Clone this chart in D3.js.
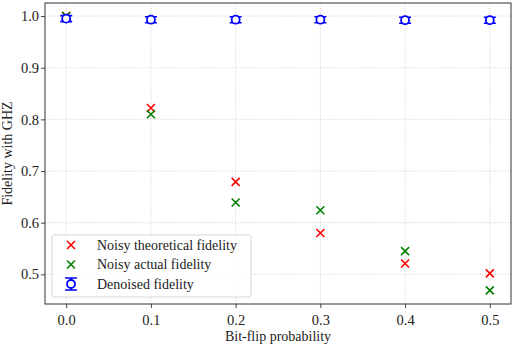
<!DOCTYPE html>
<html>
<head>
<meta charset="utf-8">
<script src="https://cdn.jsdelivr.net/npm/d3@7"></script>
<style>
  body { margin: 0; background: #fff; }
  svg text { font-family: "Liberation Serif", "DejaVu Serif", serif; fill: #222; }
</style>
</head>
<body>
<div id="chart"></div>
<script>
const probs = [0.0, 0.1, 0.2, 0.3, 0.4, 0.5]
const theoretical = [1.0, 0.822, 0.679, 0.580, 0.521, 0.502]
const actual = [1.0, 0.810, 0.639, 0.624, 0.545, 0.469]
const denoised = [0.995, 0.993, 0.993, 0.993, 0.992, 0.992]
const denoisedErr = [0.005, 0.004, 0.004, 0.004, 0.004, 0.004]
const xTicks = [0.0, 0.1, 0.2, 0.3, 0.4, 0.5]
const yTicks = [0.5, 0.6, 0.7, 0.8, 0.9, 1.0]
const legendLabels = ["Noisy theoretical fidelity", "Noisy actual fidelity", "Denoised fidelity"]

const width = 512, height = 344
const margin = { top: 3, right: 1, bottom: 40, left: 45 }
const fontSize = 14

const svg = d3.select("#chart").append("svg")
    .attr("width", width)
    .attr("height", height)

const x = d3.scaleLinear().domain([-0.025, 0.525]).range([margin.left, width - margin.right])
const y = d3.scaleLinear().domain([0.4426, 1.0253]).range([height - margin.bottom, margin.top])

// grid
const grid = svg.append("g")
    .attr("stroke", "#c8c8c8")
    .attr("stroke-width", 0.8)
    .attr("stroke-dasharray", "1,1.5")
grid.selectAll("line.gx").data(xTicks).join("line")
    .attr("x1", d => x(d)).attr("x2", d => x(d))
    .attr("y1", y.range()[0]).attr("y2", y.range()[1])
grid.selectAll("line.gy").data(yTicks).join("line")
    .attr("class", "gy")
    .attr("y1", d => y(d)).attr("y2", d => y(d))
    .attr("x1", x.range()[0]).attr("x2", x.range()[1])

// axes
const xAxis = svg.append("g")
    .attr("transform", `translate(0,${height - margin.bottom})`)
    .call(d3.axisBottom(x).tickValues(xTicks).tickFormat(d3.format(".1f")).tickSize(4).tickSizeOuter(0))
const yAxis = svg.append("g")
    .attr("transform", `translate(${margin.left},0)`)
    .call(d3.axisLeft(y).tickValues(yTicks).tickFormat(d3.format(".1f")).tickSize(4).tickSizeOuter(0))
for (const ax of [xAxis, yAxis]) {
    ax.attr("font-family", null)
    ax.select(".domain").remove()
    ax.selectAll(".tick line").attr("stroke", "#333").attr("stroke-width", 0.9)
    ax.selectAll(".tick text").attr("font-size", fontSize + 0.5).attr("fill", "#222")
}
xAxis.selectAll(".tick text").attr("dy", "0.95em")
yAxis.selectAll(".tick text").attr("x", -6)

// frame
svg.append("rect")
    .attr("x", x.range()[0]).attr("y", y.range()[1])
    .attr("width", x.range()[1] - x.range()[0])
    .attr("height", y.range()[0] - y.range()[1])
    .attr("fill", "none").attr("stroke", "#333").attr("stroke-width", 1)

svg.append("text")
    .attr("x", (x.range()[0] + x.range()[1]) / 2)
    .attr("y", height - 3)
    .attr("text-anchor", "middle")
    .attr("font-size", fontSize)
    .text("Bit-flip probability")
svg.append("text")
    .attr("transform", `translate(12,${(y.range()[0] + y.range()[1]) / 2}) rotate(-90)`)
    .attr("text-anchor", "middle")
    .attr("font-size", fontSize)
    .text("Fidelity with GHZ")

const cross = (g, cx, cy, color) => {
    const s = 4
    g.append("path")
        .attr("d", `M${cx - s},${cy - s}L${cx + s},${cy + s}M${cx - s},${cy + s}L${cx + s},${cy - s}`)
        .attr("stroke", color).attr("stroke-width", 1.6).attr("fill", "none")
}
const errMarker = (g, cx, cy, dy, color) => {
    g.append("path")
        .attr("d", `M${cx},${cy - dy}L${cx},${cy + dy}M${cx - 6},${cy - dy}L${cx + 6},${cy - dy}M${cx - 6},${cy + dy}L${cx + 6},${cy + dy}`)
        .attr("stroke", color).attr("stroke-width", 1.6).attr("fill", "none")
    g.append("circle").attr("cx", cx).attr("cy", cy).attr("r", 4)
        .attr("fill", "white").attr("stroke", color).attr("stroke-width", 1.8)
}

const marks = svg.append("g")
probs.forEach((p, i) => cross(marks, x(p), y(theoretical[i]), "#ff0000"))
probs.forEach((p, i) => cross(marks, x(p), y(actual[i]), "#008000"))
probs.forEach((p, i) => {
    const cy = y(denoised[i])
    errMarker(marks, x(p), cy, Math.max(y(denoised[i] - denoisedErr[i]) - cy, 3), "#0000ff")
})

// legend
const leg = svg.append("g").attr("transform", "translate(52,235)")
leg.append("rect").attr("width", 199).attr("height", 62).attr("rx", 2)
    .attr("fill", "white").attr("fill-opacity", 0.8).attr("stroke", "#d0d0d0").attr("stroke-width", 0.9)
const colors = ["#ff0000", "#008000", "#0000ff"]
legendLabels.forEach((lab, i) => {
    const cy = 10 + i * 19.5
    if (i < 2) cross(leg, 19, cy, colors[i])
    else errMarker(leg, 19, cy, 6, colors[i])
    leg.append("text").attr("x", 45).attr("y", cy + 4.5).attr("font-size", fontSize).text(lab)
})
</script>
</body>
</html>
